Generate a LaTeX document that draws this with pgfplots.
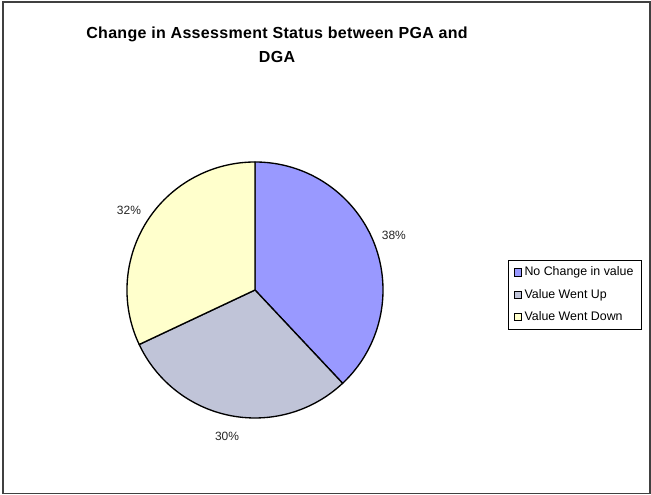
\documentclass[border=0pt]{standalone}
\usepackage{fontspec}
\setmainfont{Liberation Sans}
\usepackage{pgfplots}
\usepackage{pgfplotstable}
\pgfplotsset{compat=1.18}
\usetikzlibrary{calc}

\definecolor{pieA}{HTML}{9999FF}
\definecolor{pieB}{HTML}{C0C4D8}
\definecolor{pieC}{HTML}{FFFFCC}

% slice values (percent)
\pgfplotstableread{
value col
38 pieA
30 pieB
32 pieC
}\piedata

\begin{document}
\begin{tikzpicture}
\begin{axis}[
    scale only axis,
    width=488.25pt, height=371.25pt,
    xmin=0, xmax=651, ymin=0, ymax=495,
    hide axis, clip=false,
    legend cell align=left,
    legend style={at={(0.7803,0.4747)}, anchor=north west, draw=black,
        font=\fontsize{9.3}{11}\selectfont, row sep=4.5pt,
        inner xsep=4pt, inner ysep=3pt},
    legend image code/.code={\draw[#1] (1pt,-2.7pt) rectangle (6.4pt,2.7pt);},
]
\path (axis cs:0,0) rectangle (axis cs:651,495);
\draw[black!75, line width=1pt] (axis cs:3,1.5) rectangle (axis cs:650,493);
\node[font=\bfseries\fontsize{12}{18}\selectfont\addfontfeature{LetterSpace=2}, align=center]
    at (axis cs:277,450) {Change in Assessment Status between PGA and\\DGA};

\addlegendimage{fill=pieA, draw=black, line width=0.8pt}
\addlegendentry{No Change in value}
\addlegendimage{fill=pieB, draw=black, line width=0.8pt}
\addlegendentry{Value Went Up}
\addlegendimage{fill=pieC, draw=black, line width=0.8pt}
\addlegendentry{Value Went Down}

\pgfplotsextra{
  \gdef\angstart{90}
  \pgfplotstableforeachcolumnelement{value}\of\piedata\as\v{
    \pgfmathsetmacro\angend{\angstart-\v*3.6}
    \pgfplotstablegetelem{\pgfplotstablerow}{col}\of\piedata
    \let\c\pgfplotsretval
    \filldraw[fill=\c, draw=black, line width=1pt, line join=round]
      (axis cs:255,205) -- ++(\angstart:96pt)
      arc[start angle=\angstart, end angle=\angend, radius=96pt] -- cycle;
    \pgfmathsetmacro\mid{(\angstart+\angend)/2}
    \node[font=\fontsize{9}{11}\selectfont, text=black!85]
      at ($(axis cs:255,205)+(\mid:112pt)$) {\v\%};
    \global\let\angstart\angend
  }
}
\end{axis}
\end{tikzpicture}
\end{document}
